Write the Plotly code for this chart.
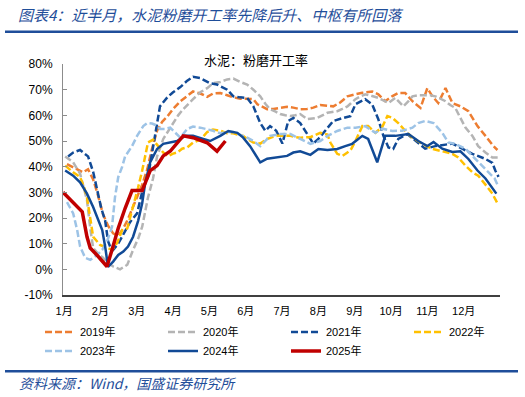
import plotly.graph_objects as go

# x: month position (1 = start of Jan), y: grinding operating rate (%)
s2019 = [(1.08,41),(1.25,39.7),(1.44,38.5),(1.52,37.8),(1.66,39),(1.80,35),(1.91,30),(2.07,21.5),(2.21,17),(2.35,14),
         (2.49,13),(2.63,16),(2.74,19),(2.87,23.5),(3.01,28),(3.15,33),(3.29,39),(3.42,47),(3.56,54),(3.70,57.5),
         (3.84,59.5),(4.00,62.5),(4.20,65.5),(4.39,67.5),(4.55,69.3),(4.75,68.5),(4.94,67.2),(5.10,68.5),(5.30,68.7),(5.49,67.8),
         (5.66,67),(5.85,66.5),(6.04,66.5),(6.21,66.3),(6.32,64.3),(6.48,63),(6.59,62.4),(6.76,62.5),(6.95,62.9),(7.14,63.3),
         (7.31,63),(7.50,62.4),(7.69,62.5),(7.86,63),(8.05,64),(8.25,63.8),(8.41,63.5),(8.60,65),(8.80,67.4),(9.02,68.2),
         (9.21,68.8),(9.48,69.3),(9.65,68.2),(9.84,65.5),(10.04,67.5),(10.20,68.7),(10.39,68.7),(10.59,65.5),(10.81,62.9),(11.00,70.6),
         (11.14,67.4),(11.30,64.8),(11.50,70.6),(11.69,64.8),(11.91,63.5),(12.13,61.6),(12.38,55.8),(12.60,52),(12.82,48),(12.93,46.5)]

s2020 = [(1.03,44),(1.25,41.7),(1.44,37.3),(1.52,33),(1.63,27),(1.72,16),(1.80,8.3),(1.94,6),(2.07,4.5),(2.21,2.5),
         (2.35,1.1),(2.54,0),(2.74,1.8),(2.90,7.6),(3.04,12),(3.15,16.6),(3.31,28),(3.45,35.5),(3.56,44),(3.73,50.8),
         (3.87,54),(4.00,57),(4.14,60),(4.28,62.4),(4.42,64.5),(4.55,66.3),(4.75,69),(4.94,70.6),(5.10,72.5),(5.30,73),
         (5.49,74),(5.66,74.3),(5.85,73),(6.04,72),(6.21,70),(6.40,67.4),(6.54,64.5),(6.67,62.4),(6.81,61.5),(6.95,60.5),
         (7.09,60),(7.23,59.7),(7.36,60),(7.50,60.5),(7.69,58.5),(7.83,58.8),(7.97,59),(8.11,60),(8.25,61),(8.38,61.3),
         (8.52,61.6),(8.66,62.5),(8.80,63.5),(8.88,64.5),(9.02,66.3),(9.15,67.3),(9.29,68.2),(9.48,67.5),(9.65,66.8),(9.79,65.8),
         (9.93,64.8),(10.12,66.8),(10.34,63.5),(10.48,65.5),(10.59,67.4),(10.75,67.8),(10.94,67.8),(11.08,67.8),(11.22,67.4),(11.36,66.5),
         (11.50,65.5),(11.63,64),(11.77,62.9),(11.91,59),(12.05,55.2),(12.24,52),(12.40,48),(12.60,45.5),(12.79,43.6),(12.96,43.6)]

s2021 = [(1.11,44),(1.25,45.5),(1.44,46.5),(1.66,44),(1.80,38),(1.91,30.7),(2.02,24),(2.13,19),(2.21,11),(2.29,8),
         (2.35,7.6),(2.49,10),(2.68,15),(2.82,18.5),(3.01,21.8),(3.18,32),(3.31,36),(3.42,45),(3.53,55),(3.64,63.5),
         (3.84,67),(4.00,69),(4.20,71),(4.39,73.5),(4.55,75),(4.75,74.5),(5.02,72.5),(5.21,72),(5.49,70),(5.66,67.4),
         (5.85,67),(6.04,66.8),(6.21,63.5),(6.40,57),(6.54,54),(6.67,55.8),(6.84,54),(7.01,49),(7.17,57.8),(7.31,59),
         (7.50,57),(7.69,53),(7.86,49),(8.00,50.8),(8.25,55),(8.41,57.8),(8.69,59),(8.88,59.7),(9.02,64.3),(9.29,66.3),
         (9.48,64.3),(9.65,58.5),(9.79,52),(9.93,47.5),(10.06,46.9),(10.20,50.8),(10.45,52.7),(10.67,50),(10.94,47),(11.22,48),
         (11.50,48.5),(11.69,49),(11.96,47),(12.24,45),(12.60,43),(12.79,41.5),(12.87,38.5),(12.96,36)]

s2022 = [(1.03,40.4),(1.25,37.8),(1.44,36),(1.55,32),(1.63,28),(1.72,19),(1.80,12.7),(1.99,9.5),(2.18,8.3),(2.32,7.6),
         (2.46,10.3),(2.60,15.3),(2.74,16),(2.90,24.3),(3.04,32),(3.15,38.5),(3.23,44),(3.31,49.4),(3.45,50.5),(3.59,48),
         (3.73,45.5),(3.87,44),(3.98,45),(4.11,45.5),(4.25,47),(4.39,47.5),(4.55,49.4),(4.75,50.5),(4.94,53.5),(5.10,54.5),
         (5.30,54),(5.49,53),(5.66,53),(5.77,52.5),(5.93,52),(6.04,50.8),(6.21,49.4),(6.40,49),(6.59,50.8),(6.73,51.5),
         (6.87,52),(7.03,52),(7.23,52),(7.36,51.5),(7.50,51.3),(7.78,51.5),(8.05,53.2),(8.25,52.5),(8.33,49.4),(8.52,45),
         (8.66,44.2),(8.80,45.5),(8.91,47),(9.02,50),(9.21,55.8),(9.37,55.8),(9.57,53.2),(9.76,55.5),(9.90,59.7),(10.04,59),
         (10.20,57),(10.39,54),(10.59,51.3),(10.86,48.9),(11.14,46.9),(11.41,46),(11.69,45),(11.85,43.6),(12.05,40.4),(12.24,37.8),
         (12.40,36.5),(12.60,33),(12.79,29.5),(12.93,25.7)]

s2023 = [(1.08,26.2),(1.25,21.8),(1.36,15.3),(1.44,8.9),(1.58,4.5),(1.72,3.7),(1.91,5.6),(2.05,7.6),(2.18,10.8),(2.32,16.6),
         (2.40,28),(2.49,35.9),(2.60,40),(2.68,44),(2.87,48),(3.01,52),(3.18,55.8),(3.29,57),(3.42,56.8),(3.56,56),
         (3.64,54.7),(3.78,54.7),(3.92,55.2),(4.06,53.2),(4.20,51.3),(4.39,54.7),(4.55,55.6),(4.75,55.2),(4.94,54.7),(5.10,54),
         (5.30,53),(5.49,53.5),(5.66,53.5),(5.85,52.5),(6.04,51.3),(6.21,50),(6.40,48),(6.54,50),(6.67,52),(6.95,52.7),
         (7.23,52.7),(7.50,50.8),(7.78,48.9),(8.05,50),(8.25,52),(8.52,53.9),(8.80,55.2),(9.02,55.2),(9.29,55.8),(9.57,53.2),
         (9.76,54.8),(10.04,53.9),(10.31,54),(10.59,55.2),(10.75,57),(10.94,57.8),(11.17,57),(11.41,53.2),(11.58,49.4),(11.77,48.9),
         (12.05,47),(12.24,44.2),(12.40,41.7),(12.60,39),(12.74,37),(12.85,35.5),(12.93,33)]

s2024 = [(1.03,38.5),(1.25,36.5),(1.44,33.9),(1.63,29.5),(1.80,24.3),(1.94,19),(2.05,15.3),(2.13,8.9),(2.21,1),(2.35,3),
         (2.49,5.6),(2.63,6.9),(2.76,8.9),(2.90,12.7),(3.04,19),(3.15,25.7),(3.23,33.4),(3.37,41.7),(3.56,46.9),(3.73,48.9),
         (3.92,49.4),(4.11,50),(4.33,52),(4.55,52),(4.83,50.8),(5.02,50),(5.30,52),(5.52,53.9),(5.77,53.2),(5.93,51.3),
         (6.12,48),(6.26,45),(6.40,41.7),(6.59,43.1),(6.87,43.6),(7.14,44.2),(7.31,45.5),(7.50,46),(7.78,44.6),(8.00,46.9),
         (8.25,46.5),(8.52,46.9),(8.74,48),(8.93,48.9),(9.21,52),(9.37,50.8),(9.62,41.7),(9.84,52),(10.12,52),(10.48,52.7),
         (10.75,50),(11.00,48),(11.17,49.6),(11.41,47),(11.69,45.7),(11.91,46),(12.13,43),(12.38,38.5),(12.60,35.4),(12.79,31.5),
         (12.90,29.5)]

s2025 = [(0.97,30),(1.25,26.2),(1.50,22.4),(1.63,12.7),(1.72,8.3),(1.94,5),(2.18,1.1),(2.32,7.6),(2.49,16),(2.68,23.8),
         (2.87,30.7),(3.15,30.7),(3.37,38.5),(3.56,40.4),(3.73,44.2),(3.92,46),(4.11,48.9),(4.28,52),(4.55,51.3),(4.83,50),
         (4.94,49.3),(5.21,46),(5.44,50)]

month_ticks = list(range(1, 13))
month_labels = [f"{m}月" for m in month_ticks]
y_ticks = list(range(-10, 81, 10))
y_labels = [f"{v}%" for v in y_ticks]

series = [
    ("2019年", s2019, "#ED7D31", "dash", 2.5),
    ("2020年", s2020, "#B4B4B4", "dash", 2.5),
    ("2021年", s2021, "#114A96", "dash", 2.5),
    ("2022年", s2022, "#FFC000", "dash", 2.5),
    ("2023年", s2023, "#9DC3E6", "dash", 2.5),
    ("2024年", s2024, "#114A96", "solid", 2.5),
    ("2025年", s2025, "#C00000", "solid", 3.5),
]

fig = go.Figure()
for name, data, color, dash, w in series:
    xs = [p[0] for p in data]
    ys = [p[1] for p in data]
    fig.add_trace(go.Scatter(
        x=xs, y=ys, mode="lines", name=name,
        line=dict(color=color, width=w, dash=("7px,3px" if dash == "dash" else "solid")),
        hoverinfo="skip",
    ))

W, H = 525, 397
ML, MR, MT, MB = 63, 25, 63.5, 101.5
PW, PH = W - ML - MR, H - MT - MB

def px(xp):
    return (xp - ML) / PW

def py(yp):
    return (H - MB - yp) / PH

blue = "#1F4E9A"
cjk = "Liberation Sans, Noto Sans CJK SC"

fig.update_layout(
    width=W, height=H,
    margin=dict(l=ML, r=MR, t=MT, b=MB, autoexpand=False),
    paper_bgcolor="white", plot_bgcolor="white",
    font=dict(family=cjk, color="#000000", size=12),
    showlegend=True,
    legend=dict(orientation="h", x=px(40), xanchor="left", y=py(318), yanchor="top",
                entrywidth=78, entrywidthmode="pixels", itemwidth=30,
                font=dict(size=11, family=cjk, color="#000000"),
                bgcolor="rgba(0,0,0,0)", traceorder="normal"),
    xaxis=dict(range=[0.97, 13.0], tickvals=month_ticks, ticktext=month_labels,
               showgrid=False, zeroline=False, showline=True, linecolor="#404040", linewidth=1.5,
               ticks="outside", ticklen=5, tickcolor="rgba(0,0,0,0)",
               tickfont=dict(size=11, family=cjk, color="#000000")),
    yaxis=dict(range=[-10, 80], tickvals=y_ticks, ticktext=y_labels,
               showgrid=False, zeroline=False, showline=True, linecolor="#8C8C8C", linewidth=1,
               ticks="inside", ticklen=4, tickcolor="#8C8C8C", ticklabelstandoff=7,
               tickfont=dict(size=12, family=cjk, color="#000000")),
    shapes=[
        dict(type="line", xref="paper", yref="paper", x0=px(5), x1=px(518), y0=py(31), y1=py(31),
             line=dict(color=blue, width=2.5)),
        dict(type="line", xref="paper", yref="paper", x0=px(5), x1=px(518), y0=py(372), y1=py(372),
             line=dict(color=blue, width=2.5)),
    ],
    annotations=[
        dict(text="<i>图表4：近半月，水泥粉磨开工率先降后升、中枢有所回落</i>", xref="paper", yref="paper",
             x=px(16), y=py(14), xanchor="left", yanchor="middle", showarrow=False,
             font=dict(size=15, color=blue, family="Noto Sans CJK SC")),
        dict(text="水泥：粉磨开工率", xref="paper", yref="paper",
             x=px(256), y=py(59), xanchor="center", yanchor="middle", showarrow=False,
             font=dict(size=13, color="#000000", family="Noto Sans CJK SC")),
        dict(text="<i>资料来源：Wind，国盛证券研究所</i>", xref="paper", yref="paper",
             x=px(17), y=py(384), xanchor="left", yanchor="middle", showarrow=False,
             font=dict(size=14, color=blue, family="Noto Sans CJK SC")),
    ],
)

fig.write_html("out.html", config={"displayModeBar": False},
               post_script="document.body.style.margin='0px';document.body.style.padding='0px';")
